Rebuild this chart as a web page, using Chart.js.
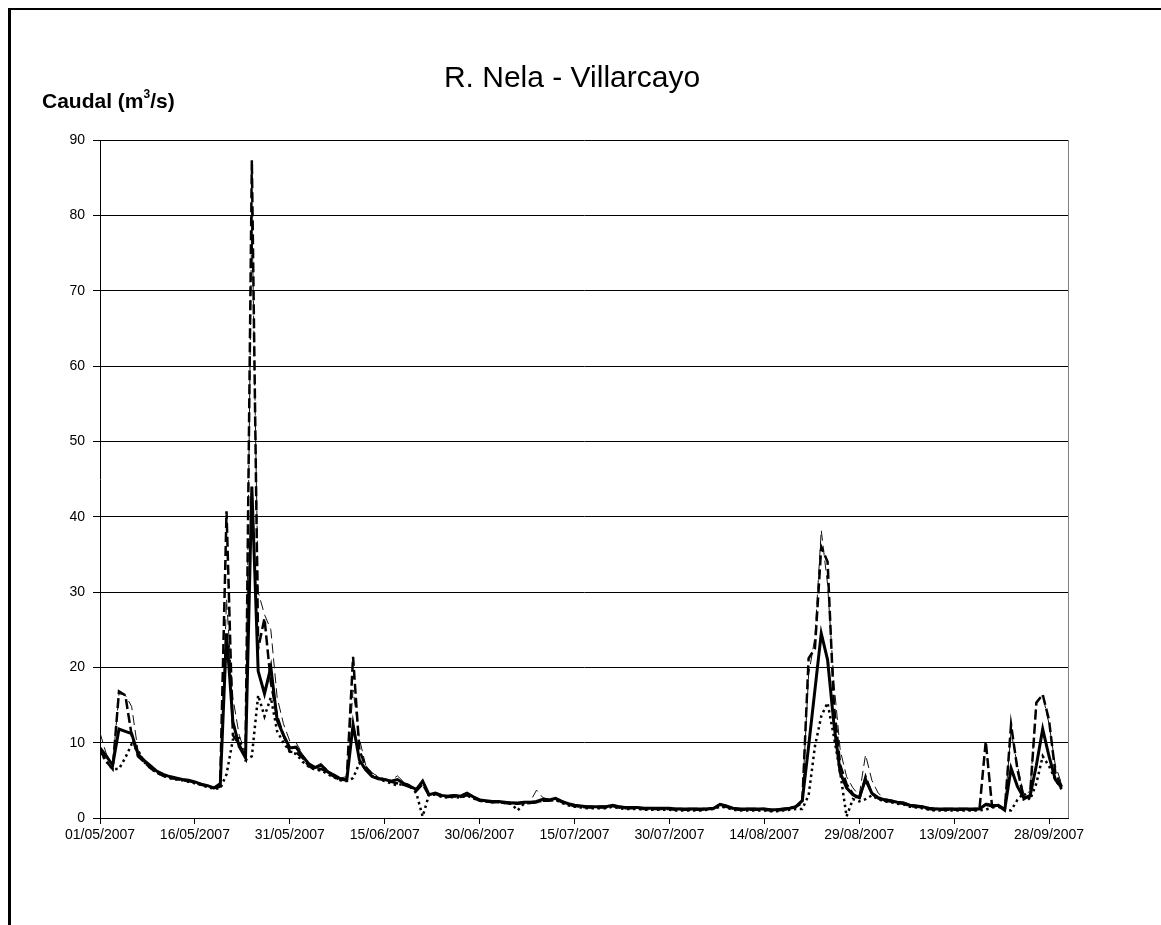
<!DOCTYPE html>
<html>
<head>
<meta charset="utf-8">
<script src="https://cdn.jsdelivr.net/npm/chart.js@4.4.1/dist/chart.umd.min.js"></script>
<style>
  html, body { margin: 0; padding: 0; background: #fff; }
  #wrap { position: relative; width: 1161px; height: 925px; overflow: hidden; }
  #frame { position: absolute; left: 8px; top: 8px; width: 1300px; height: 1000px;
           border-left: 3px solid #000; border-top: 2px solid #000; }
  #title { position: absolute; left: 0; width: 1144px; top: 60px; text-align: center;
           font: 30px "Liberation Sans", Arial, sans-serif; color: #000; }
  #ylabel { position: absolute; left: 42px; top: 89px;
            font: bold 21px "Liberation Sans", Arial, sans-serif; color: #000; }
  #ylabel sup { font-size: 12px; position: relative; top: -2px; }
  canvas { position: absolute; left: 0; top: 0; }
</style>
</head>
<body>
<div id="wrap">
  <div id="frame"></div>
  <canvas id="myChart" width="1161" height="925"></canvas>
  <div id="title">R. Nela - Villarcayo</div>
  <div id="ylabel">Caudal (m<sup>3</sup>/s)</div>
</div>
<script>
// Daily flow, 01/05/2007 - 30/09/2007 (index = days since 01/05)
const tickLabels = ['01/05/2007', '16/05/2007', '31/05/2007', '15/06/2007', '30/06/2007',
                    '15/07/2007', '30/07/2007', '14/08/2007', '29/08/2007', '13/09/2007', '28/09/2007'];

const solid = [
  9.3, 8.2, 7.0, 11.8, 11.5, 11.2, 8.5, 7.6, 6.9, 6.2,
  5.8, 5.5, 5.3, 5.1, 5.0, 4.8, 4.5, 4.3, 4.0, 4.2,
  24.5, 12.8, 9.5, 8.0, 44.0, 19.5, 16.5, 20.0, 13.0, 11.0,
  9.3, 9.4, 8.2, 7.2, 6.7, 7.0, 6.1, 5.7, 5.2, 5.0,
  12.4, 7.7, 6.4, 5.5, 5.2, 5.1, 4.9, 5.1, 4.6, 4.2,
  3.8, 4.9, 3.1, 3.3, 3.0, 2.9, 3.0, 2.9, 3.3, 2.8,
  2.4, 2.3, 2.2, 2.2, 2.1, 2.0, 2.0, 2.1, 2.1, 2.2,
  2.5, 2.4, 2.6, 2.2, 1.9, 1.7, 1.6, 1.5, 1.5, 1.5,
  1.5, 1.7, 1.5, 1.4, 1.4, 1.4, 1.3, 1.3, 1.3, 1.3,
  1.3, 1.2, 1.2, 1.2, 1.2, 1.2, 1.2, 1.3, 1.8, 1.6,
  1.3, 1.2, 1.2, 1.2, 1.2, 1.2, 1.1, 1.1, 1.2, 1.3,
  1.5, 2.3, 9.5, 17.0, 24.5, 21.0, 12.5, 6.0, 4.0, 3.1,
  2.7, 5.1, 3.3, 2.7, 2.4, 2.3, 2.1, 2.0, 1.7, 1.6,
  1.5, 1.3, 1.2, 1.2, 1.2, 1.2, 1.2, 1.2, 1.2, 1.2,
  1.8, 1.6, 1.7, 1.1, 6.6, 4.2, 2.7, 2.9, 7.0, 11.8,
  8.2, 5.1, 4.0
];

const dashedThick = [
  9.0, 7.5, 6.5, 16.8, 16.3, 11.0, 8.2, 7.4, 6.6, 6.0,
  5.6, 5.3, 5.2, 5.0, 4.9, 4.7, 4.4, 4.2, 4.0, 4.6,
  40.7, 11.0, 9.8, 8.0, 87.3, 22.5, 26.5, 18.0, 13.5, 11.0,
  8.8, 8.7, 8.0, 6.9, 6.4, 6.5, 6.0, 5.5, 5.0, 5.2,
  21.4, 9.0, 6.8, 5.8, 5.3, 5.0, 4.8, 4.6, 4.4, 4.1,
  3.6, 4.5, 3.0, 3.2, 2.9, 2.8, 2.9, 2.8, 3.0, 2.7,
  2.3, 2.2, 2.1, 2.1, 2.0, 1.9, 1.9, 2.0, 2.0, 2.1,
  2.3, 2.3, 2.5, 2.1, 1.8, 1.6, 1.5, 1.4, 1.4, 1.4,
  1.4, 1.6, 1.4, 1.3, 1.3, 1.3, 1.2, 1.2, 1.2, 1.2,
  1.2, 1.1, 1.1, 1.1, 1.1, 1.1, 1.2, 1.3, 1.6, 1.5,
  1.2, 1.1, 1.1, 1.1, 1.1, 1.1, 1.0, 1.0, 1.1, 1.2,
  1.5, 2.0, 21.2, 22.5, 36.0, 34.0, 15.0, 7.0, 4.5, 3.2,
  2.4, 5.5, 3.2, 2.6, 2.3, 2.2, 2.0, 1.9, 1.6, 1.5,
  1.4, 1.2, 1.1, 1.1, 1.1, 1.1, 1.1, 1.1, 1.1, 1.1,
  10.2, 1.5, 1.6, 1.0, 12.4, 6.5, 2.5, 3.0, 15.3, 16.4,
  13.0, 6.0, 4.2
];

const dashedThin = [
  11.3, 8.5, 7.0, 16.5, 16.3, 14.8, 9.0, 7.8, 7.0, 6.3,
  5.9, 5.5, 5.3, 5.2, 5.0, 4.8, 4.6, 4.3, 4.1, 4.5,
  29.0, 16.0, 11.0, 8.5, 81.0, 30.0, 27.0, 25.0, 16.0, 12.5,
  10.2, 10.0, 8.5, 7.3, 6.8, 7.3, 6.3, 5.8, 5.3, 5.5,
  17.0, 10.5, 7.0, 6.0, 5.5, 5.2, 5.0, 5.6, 4.8, 4.4,
  3.6, 5.1, 3.2, 3.4, 3.1, 3.0, 3.1, 3.0, 3.4, 2.9,
  2.5, 2.4, 2.3, 2.3, 2.2, 2.1, 2.1, 2.2, 2.2, 3.7,
  2.7, 2.5, 2.7, 2.3, 2.0, 1.8, 1.7, 1.6, 1.6, 1.6,
  1.6, 1.8, 1.6, 1.5, 1.5, 1.4, 1.4, 1.4, 1.4, 1.3,
  1.3, 1.3, 1.3, 1.3, 1.3, 1.3, 1.3, 1.4, 1.9, 1.7,
  1.4, 1.3, 1.3, 1.3, 1.3, 1.3, 1.2, 1.2, 1.3, 1.4,
  1.6, 2.5, 19.0, 24.0, 38.2, 31.0, 18.0, 9.0, 5.5, 4.0,
  3.0, 8.4, 5.0, 3.3, 2.6, 2.4, 2.2, 2.1, 1.8, 1.7,
  1.6, 1.4, 1.3, 1.3, 1.3, 1.3, 1.3, 1.3, 1.3, 1.3,
  2.0, 1.8, 1.8, 1.3, 11.5, 7.0, 3.2, 3.5, 15.5, 16.3,
  12.5, 7.0, 4.5
];

const dotted = [
  8.8, 7.5, 6.5, 6.5, 8.0, 9.8, 9.0, 7.4, 6.6, 6.0,
  5.6, 5.3, 5.1, 5.0, 4.8, 4.6, 4.4, 4.1, 3.9, 3.9,
  5.8, 10.4, 10.6, 7.7, 8.2, 16.3, 13.5, 16.0, 11.5, 10.0,
  8.8, 8.5, 7.5, 6.8, 6.4, 6.3, 5.8, 5.4, 5.0, 4.9,
  5.3, 7.3, 6.5, 5.6, 5.2, 4.9, 4.6, 4.3, 4.6, 4.2,
  3.3, 0.2, 3.1, 3.1, 2.8, 2.7, 2.8, 2.7, 3.0, 2.6,
  2.3, 2.2, 2.1, 2.1, 2.0, 1.9, 1.0, 1.9, 2.0, 2.1,
  2.3, 2.3, 2.4, 2.0, 1.7, 1.5, 1.4, 1.3, 1.3, 1.3,
  1.3, 1.5, 1.3, 1.2, 1.2, 1.2, 1.1, 1.1, 1.1, 1.1,
  1.1, 1.0, 1.0, 1.0, 1.0, 1.0, 1.1, 1.2, 1.5, 1.4,
  1.1, 1.0, 1.0, 1.0, 1.0, 1.0, 0.9, 0.9, 1.0, 1.1,
  1.2, 1.2, 3.0, 9.5, 13.5, 15.3, 10.8, 6.0, 0.2, 2.5,
  2.2, 2.5, 3.0, 2.5, 2.2, 2.1, 1.9, 1.8, 1.5, 1.4,
  1.3, 1.1, 1.0, 1.0, 1.0, 1.0, 1.0, 1.0, 1.0, 1.0,
  1.1, 1.4, 1.5, 1.1, 1.0, 2.4, 3.3, 2.4, 4.6, 8.2,
  6.9, 5.1, 3.8
];

function points(arr) {
    return arr.map((v, i) => ({x: i, y: v}));   // x = day index
}

// thin grey frame on the right side of the plot area
const plotFrame = {
    id: 'plotFrame',
    afterDraw(chart) {
        const a = chart.chartArea, ctx = chart.ctx;
        ctx.save();
        ctx.strokeStyle = '#808080';
        ctx.lineWidth = 1;
        ctx.beginPath();
        ctx.moveTo(Math.round(a.right) + 0.5, a.top);
        ctx.lineTo(Math.round(a.right) + 0.5, a.bottom);
        ctx.stroke();
        ctx.restore();
    }
};

const tickFont = {family: '"Liberation Sans", Arial, sans-serif', size: 14};

const ctx = document.getElementById('myChart');
new Chart(ctx, {
    type: 'line',
    data: {
        datasets: [
            {label: 'solid', data: points(solid), borderColor: '#000', borderWidth: 3, order: 1},
            {label: 'dashedThick', data: points(dashedThick), borderColor: '#000', borderWidth: 2.5,
             borderDash: [10, 4], order: 2},
            {label: 'dashedThin', data: points(dashedThin), borderColor: '#111', borderWidth: 1,
             borderDash: [10, 5], order: 3},
            {label: 'dotted', data: points(dotted), borderColor: '#000', borderWidth: 2.5,
             borderDash: [2.5, 3.5], order: 4}
        ]
    },
    options: {
        responsive: false,
        animation: false,
        events: [],
        layout: {padding: {left: 40, right: 93, top: 140, bottom: 67}},
        elements: {point: {radius: 0}, line: {tension: 0, fill: false}},
        plugins: {legend: {display: false}, tooltip: {enabled: false}, title: {display: false}},
        scales: {
            x: {
                type: 'linear',
                min: 0,
                max: 153,
                afterFit: s => { s.height = 40; },
                afterBuildTicks: s => { s.ticks = s.ticks.filter(t => t.value % 15 === 0); },
                grid: {drawOnChartArea: false, color: '#000', tickLength: 6},
                border: {color: '#000', width: 1},
                ticks: {
                    stepSize: 15,
                    includeBounds: false,
                    autoSkip: false,
                    maxRotation: 0,
                    padding: 3,
                    color: '#000',
                    font: tickFont,
                    callback: v => tickLabels[v / 15] || ''
                }
            },
            y: {
                min: 0,
                max: 90,
                afterFit: s => { s.width = 60; },
                grid: {color: '#000', lineWidth: 1, tickLength: 7},
                border: {color: '#000', width: 1},
                ticks: {stepSize: 10, padding: 8, color: '#000', font: tickFont}
            }
        }
    },
    plugins: [plotFrame]
});
</script>
</body>
</html>
